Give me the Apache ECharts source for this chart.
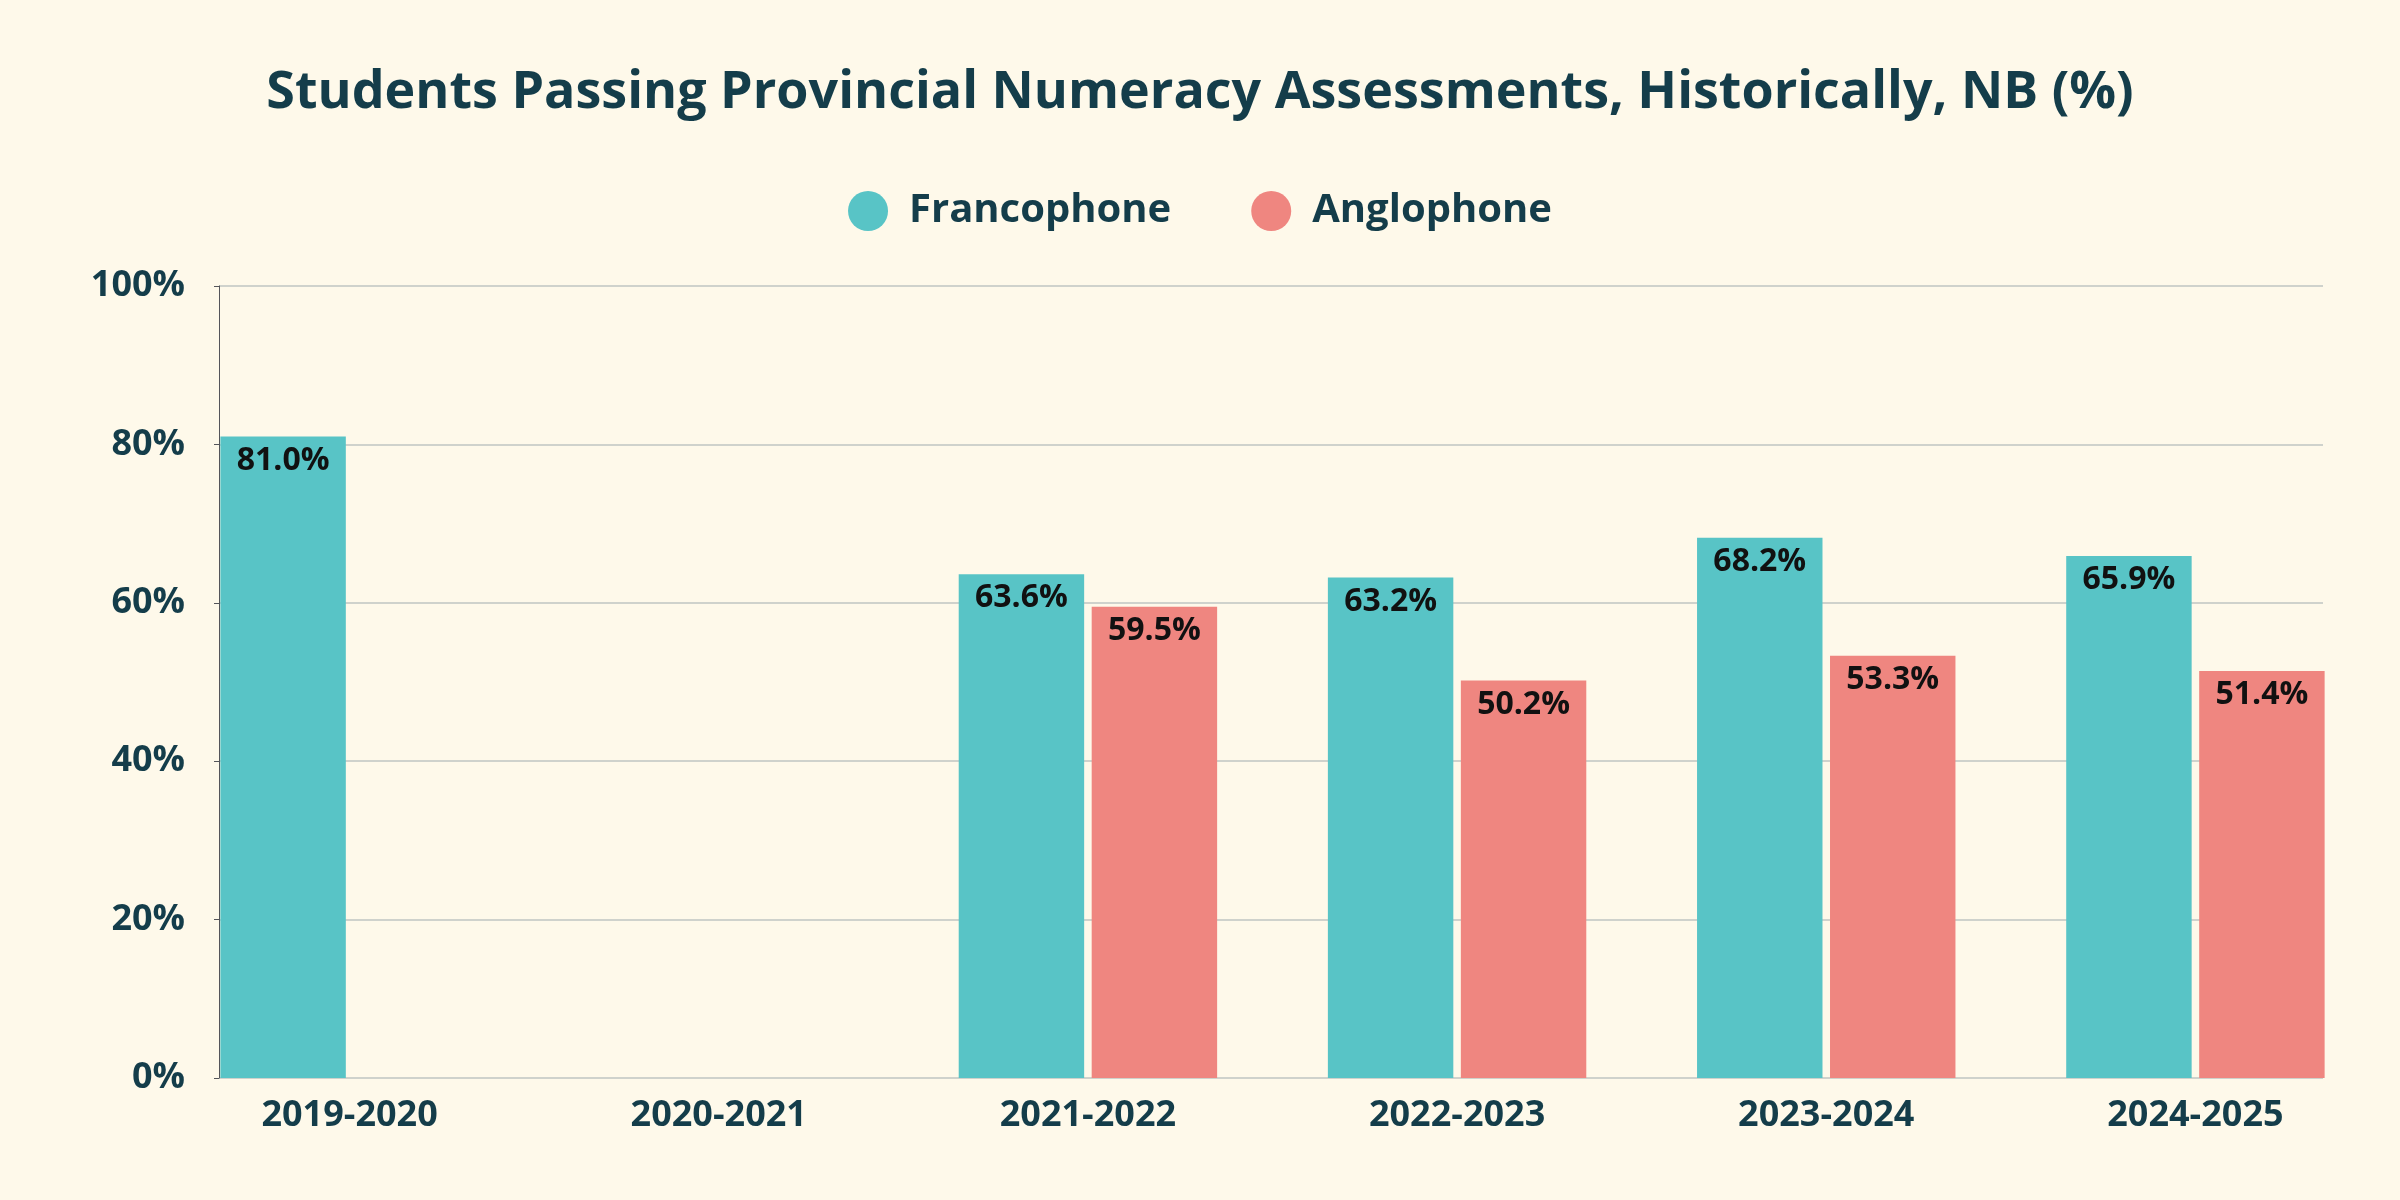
<!DOCTYPE html>
<html><head><meta charset="utf-8">
<script src="https://cdn.jsdelivr.net/npm/echarts@6/dist/echarts.min.js"></script>
<style>html,body{margin:0;background:#fef9ea}#main{width:2400px;height:1200px}</style>
</head><body><div id="main"></div>
<script>
var years = ['2019-2020', '2020-2021', '2021-2022', '2022-2023', '2023-2024', '2024-2025'];
var francophone = [81.0, null, 63.6, 63.2, 68.2, 65.9];
var anglophone = [null, null, 59.5, 50.2, 53.3, 51.4];

var ink = '#143d4a';
var font = 'Open Sans';
var chart = echarts.init(document.getElementById('main'));

function labelOpt() {
  return {
    show: true, position: 'insideTop', distance: 8,
    color: '#111', fontFamily: font, fontWeight: 'bold', fontSize: 32,
    formatter: function (p) { return p.value.toFixed(1) + '%'; }
  };
}

chart.setOption({
  backgroundColor: '#fef9ea',
  title: {
    text: 'Students Passing Provincial Numeracy Assessments, Historically, NB (%)',
    left: 'center', top: 62,
    textStyle: { color: ink, fontFamily: font, fontWeight: 'bold', fontSize: 52 }
  },
  legend: {
    top: 186, left: 'center', icon: 'circle', itemWidth: 40, itemHeight: 40, itemGap: 80,
    textStyle: { color: ink, fontFamily: font, fontWeight: 'bold', fontSize: 40, padding: [0, 0, 0, 16] }
  },
  grid: [
    { left: 165, right: 20, top: 286, bottom: 122 },
    { left: 219, right: 77, top: 286, bottom: 122 }
  ],
  xAxis: [
    {
      type: 'category', data: years, gridIndex: 0,
      axisLine: { show: false }, axisTick: { show: false },
      axisLabel: { color: ink, fontFamily: font, fontWeight: 'bold', fontSize: 36, margin: 20 }
    },
    { type: 'value', gridIndex: 1, show: false }
  ],
  yAxis: [
    { type: 'value', min: 0, max: 100, interval: 20, gridIndex: 0, show: false, splitLine: { show: false } },
    {
      type: 'value', min: 0, max: 100, interval: 20, gridIndex: 1, z: 0,
      axisLabel: { color: ink, fontFamily: font, fontWeight: 'bold', fontSize: 36, margin: 34, formatter: '{value}%' },
      splitLine: { lineStyle: { color: '#cfd2cc', width: 2 } }
    }
  ],
  series: [
    { name: 'Francophone', type: 'bar', data: francophone, itemStyle: { color: '#58c4c6' },
      barGap: '6%', barCategoryGap: '30%', label: labelOpt(), z: 3 },
    { name: 'Anglophone', type: 'bar', data: anglophone, itemStyle: { color: '#ef8680' },
      label: labelOpt(), z: 3 }
  ]
});
</script></body></html>
